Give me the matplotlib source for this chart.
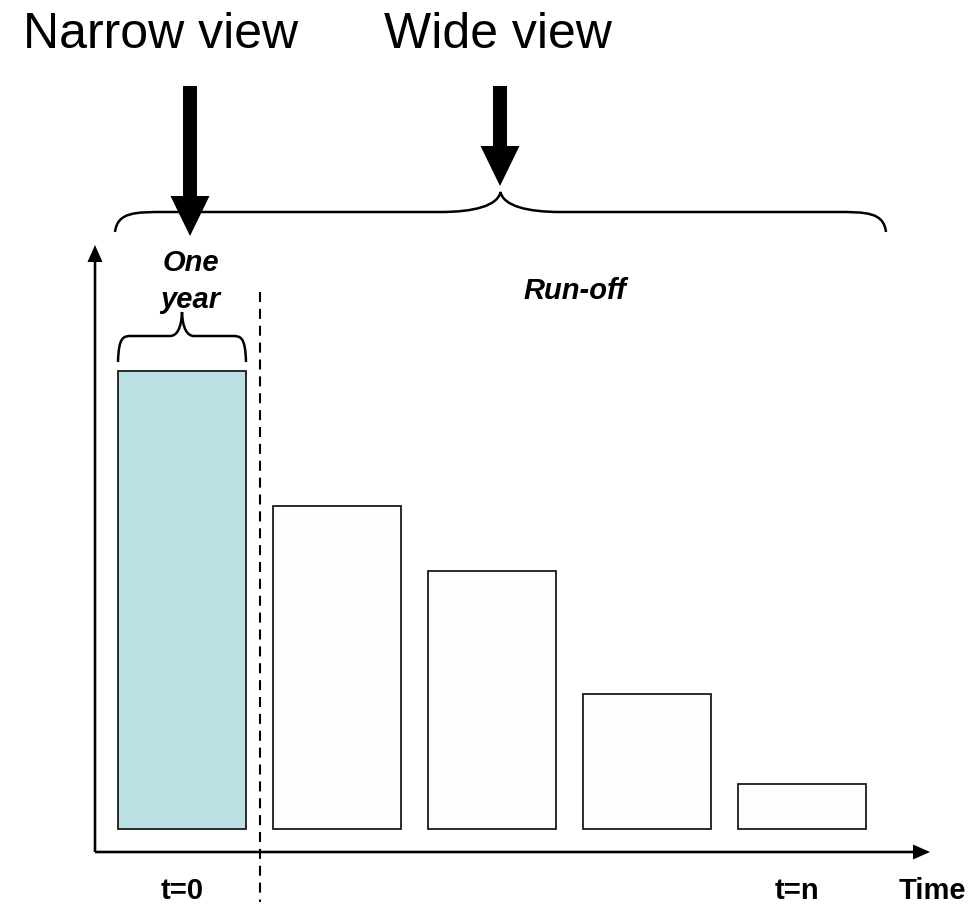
import matplotlib
matplotlib.use("Agg")
import matplotlib.pyplot as plt
from matplotlib.path import Path
from matplotlib.patches import PathPatch, FancyArrow

plt.rcParams['font.family'] = ['Liberation Sans', 'DejaVu Sans']

# cash flows shrinking as the portfolio runs off
periods = [0, 1, 2, 3, 4]
amounts = [100.0, 70.5, 56.3, 29.5, 9.8]
bar_colors = ['#BBE0E3', '#FDFDFD', '#FDFDFD', '#FDFDFD', '#FDFDFD']
tick_labels = ['t=0', 't=n']

W, H = 970, 908
fig = plt.figure(figsize=(W / 100, H / 100), dpi=100)

# bar area, sized in pixels of the final image
left, right, bottom, top = 95, 930, 852, 245
ax = fig.add_axes([left / W, 1 - bottom / H, (right - left) / W, (bottom - top) / H])
ax.bar(periods, amounts, width=0.826, color=bar_colors, edgecolor='#1a1a1a', linewidth=1.3)
ax.set_xlim(-0.561, 4.826)
ax.set_ylim(-5.02, 127.5)
ax.axis('off')

# overlay in pixel units for arrows, braces and labels
ov = fig.add_axes([0, 0, 1, 1])
ov.set_xlim(0, W)
ov.set_ylim(H, 0)
ov.axis('off')


def brace(x0, x1, y_end, y_mid, y_tip, r_end, r_tip, lw=1.8):
    xm = (x0 + x1) / 2
    verts = [
        (x0, y_end),
        (x0 + 0.05 * r_end, y_mid), (x0 + 0.4 * r_end, y_mid), (x0 + r_end, y_mid),
        (xm - r_tip, y_mid),
        (xm - 0.45 * r_tip, y_mid), (xm - 0.05 * r_tip, y_mid - 0.3 * (y_mid - y_tip)), (xm, y_tip),
        (xm + 0.05 * r_tip, y_mid - 0.3 * (y_mid - y_tip)), (xm + 0.45 * r_tip, y_mid), (xm + r_tip, y_mid),
        (x1 - r_end, y_mid),
        (x1 - 0.4 * r_end, y_mid), (x1 - 0.05 * r_end, y_mid), (x1, y_end),
    ]
    codes = [Path.MOVETO,
             Path.CURVE4, Path.CURVE4, Path.CURVE4,
             Path.LINETO,
             Path.CURVE4, Path.CURVE4, Path.CURVE4,
             Path.CURVE4, Path.CURVE4, Path.CURVE4,
             Path.LINETO,
             Path.CURVE4, Path.CURVE4, Path.CURVE4]
    ov.add_patch(PathPatch(Path(verts, codes), facecolor='none', edgecolor='black', lw=lw,
                           capstyle='butt'))


# time and value axes
ov.add_patch(FancyArrow(left, bottom, right - left, 0, width=2.6, head_width=15, head_length=17,
                        length_includes_head=True, color='black', lw=0))
ov.add_patch(FancyArrow(left, bottom, 0, top - bottom, width=2.6, head_width=15, head_length=17,
                        length_includes_head=True, color='black', lw=0))

# one-year boundary
ov.plot([260, 260], [292, 902], color='black', lw=1.5, linestyle=(0, (4.8, 3.3)))

# braces
brace(115, 886, 232, 212, 192, 50, 60)
brace(118, 246, 362, 336, 312, 14, 12)

# view arrows
ov.add_patch(FancyArrow(190, 86, 0, 150, width=14, head_width=39, head_length=40,
                        length_includes_head=True, color='black', lw=0))
ov.add_patch(FancyArrow(500, 86, 0, 100, width=14, head_width=39, head_length=40,
                        length_includes_head=True, color='black', lw=0))

ov.text(161, 48, 'Narrow view', fontsize=36, ha='center', va='baseline')
ov.text(498, 48, 'Wide view', fontsize=36, ha='center', va='baseline')

bi = dict(fontsize=21, fontweight='bold', fontstyle='italic', ha='center', va='baseline')
ov.text(191, 271, 'One', **bi)
ov.text(190, 308, 'year', **bi)
ov.text(575, 299, 'Run-off', **bi)

b = dict(fontsize=21, fontweight='bold', ha='center', va='baseline')
ov.text(182, 899, tick_labels[0], **b)
ov.text(797, 899, tick_labels[1], **b)
ov.text(932, 899, 'Time', **b)

fig.savefig('out.png', dpi=100)
